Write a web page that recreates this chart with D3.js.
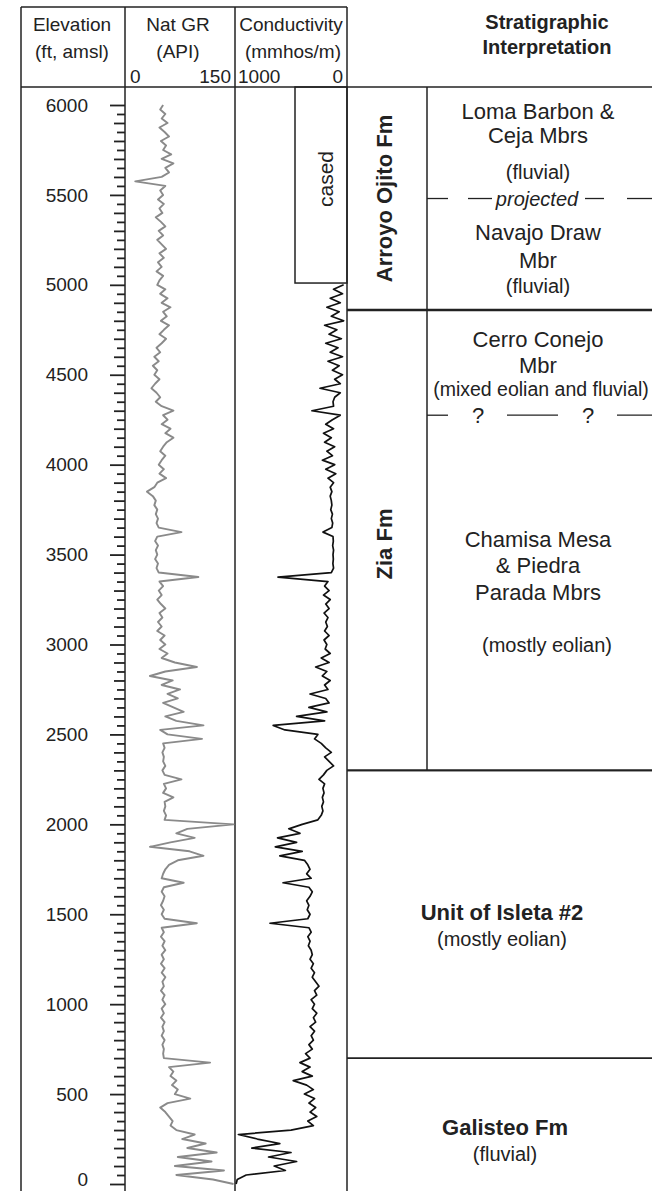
<!DOCTYPE html>
<html><head><meta charset="utf-8">
<script src="https://cdn.jsdelivr.net/npm/d3@7"></script>
<style>body{margin:0;background:#fff}svg{display:block}text{font-family:"Liberation Sans",Arial,sans-serif;fill:#222}</style>
</head><body><svg id="c" width="652" height="1191"></svg>
<script>
// ---------- DATA ----------
const elevTickLabels = [0,500,1000,1500,2000,2500,3000,3500,4000,4500,5000,5500,6000];
const grScaleLabels = ["0","150"];
const condScaleLabels = ["1000","0"];
// Natural gamma ray (API), sampled every 25 ft from 6000 ft down to 0 ft
const grTop = 6000, grStep = 25;
const grValues = [52,48,55,50,58,47,54,60,49,56,52,63,50,66,55,60,50,14,55,48,52,
45,53,47,51,42,49,55,46,52,44,50,56,47,53,45,50,43,52,47,44,
55,48,58,50,62,52,57,49,60,53,47,56,
50,43,48,40,46,38,44,40,47,41,36,43,48,42,50,66,52,58,50,62,55,66,57,52,48,55,50,46,
53,47,56,44,40,30,38,42,40,44,42,45,43,46,77,44,41,45,42,44,41,45,43,46,100,47,52,46,50,44,49,55,47,51,45,
50,44,54,48,55,47,58,50,68,98,55,34,65,50,75,58,72,52,66,80,55,70,107,48,58,105,52,54,51,53,52,55,51,54,77,53,56,52,66,54,55,53,56,54,148,
85,70,95,62,34,88,107,72,60,55,52,50,80,53,50,54,52,49,53,50,54,98,50,53,49,54,51,55,50,53,49,54,50,55,51,53,49,54,51,55,
50,53,49,54,51,53,50,54,51,53,52,53,116,60,66,62,70,64,72,68,89,58,48,55,60,65,62,70,95,78,110,85,125,72,118,68,135,70,120,148];
// Conductivity (mmhos/m), sampled every 25 ft from 5000 ft down to 0 ft (cased above)
const condTop = 5000, condStep = 25;
const condValues = [30,120,40,150,60,180,70,140,30,200,90,160,50,190,80,150,40,170,70,130,40,110,60,241,60,110,125,120,313,60,
130,190,120,210,140,200,110,180,130,220,110,190,100,170,120,150,135,150,140,135,145,130,140,128,135,214,125,122,128,120,
125,122,126,120,140,616,170,200,160,210,150,190,160,205,170,190,175,200,160,205,180,195,150,230,160,280,180,220,150,200,
170,330,190,160,340,180,450,200,659,554,260,290,230,190,140,200,160,120,180,210,250,200,215,205,220,210,225,215,230,260,
400,520,420,620,450,640,400,600,380,350,330,360,320,571,340,310,330,360,340,355,330,350,688,340,320,350,330,345,320,310,
330,300,320,290,310,280,250,290,270,320,290,310,270,300,280,330,290,320,300,340,310,370,330,420,330,400,310,480,360,300,
380,290,340,280,330,270,350,300,500,970,800,600,850,500,700,450,650,550,900,980,990];
const casedBottom = 5010;
// Stratigraphic units (elevations in ft)
const formations = [
  {name:"Arroyo Ojito Fm", top:6300, bottom:4860},
  {name:"Zia Fm", top:4860, bottom:2300}
];
const units = [
  {name:"Unit of Isleta #2", sub:"(mostly eolian)", top:2300, bottom:700},
  {name:"Galisteo Fm", sub:"(fluvial)", top:700, bottom:-200}
];
const projectedContact = 5480;
const uncertainContact = 4275;

// ---------- LAYOUT ----------
const svg = d3.select("#c");
const X = {left:21, gr:125, cond:235, strat:347, mbr:427, right:652};
const headTop = 7, headBot = 87, H = 1191;
const y = d3.scaleLinear().domain([0,6000]).range([1184,105]);
const xGR = d3.scaleLinear().domain([0,150]).range([X.gr, X.cond]);
const xCond = d3.scaleLinear().domain([1000,0]).range([X.cond, X.strat]);
const ink = "#222";

const frame = svg.append("g").attr("stroke", ink).attr("stroke-width",1.5).attr("fill","none");
frame.append("line").attr("x1",X.left).attr("x2",X.strat).attr("y1",headTop).attr("y2",headTop);
frame.append("line").attr("x1",X.left).attr("x2",X.right).attr("y1",headBot).attr("y2",headBot);
[X.left, X.gr, X.cond, X.strat].forEach(x=>{
  frame.append("line").attr("x1",x).attr("x2",x).attr("y1",headTop).attr("y2",H);
});

// header texts
function txt(x,yy,s,opt={}){
  return svg.append("text").attr("x",x).attr("y",yy).text(s)
    .attr("font-size",opt.size||19).attr("text-anchor",opt.anchor||"middle")
    .attr("font-weight",opt.weight||"normal").attr("font-style",opt.style||"normal");
}
txt(72,31,"Elevation"); txt(72,58,"(ft, amsl)");
txt(178,31,"Nat GR"); txt(178,58,"(API)");
txt(291,31,"Conductivity"); txt(293,58,"(mmhos/m)");
txt(xGR(0)+5,83,grScaleLabels[0],{anchor:"start"});
txt(xGR(150)-4,83,grScaleLabels[1],{anchor:"end"});
txt(xCond(1000)+3,83,condScaleLabels[0],{anchor:"start"});
txt(xCond(0)-4,83,condScaleLabels[1],{anchor:"end"});
txt(547,29,"Stratigraphic",{weight:"bold",size:20});
txt(547,54,"Interpretation",{weight:"bold",size:20});

// elevation axis
const minor = d3.range(0,6001,50).filter(v=>v%500!==0);
const axMinor = svg.append("g").attr("transform",`translate(${X.gr},0)`)
  .call(d3.axisLeft(y).tickValues(minor).tickSize(0).tickFormat(""));
axMinor.selectAll(".tick line").attr("x2",d=>d%100===0?-11:-8).attr("stroke",ink).attr("stroke-width",1.8);
axMinor.select(".domain").remove();
const axMajor = svg.append("g").attr("transform",`translate(${X.gr},0)`)
  .call(d3.axisLeft(y).tickValues(elevTickLabels).tickSize(15).tickPadding(22).tickFormat(d3.format("d")));
axMajor.select(".domain").remove();
axMajor.selectAll(".tick line").attr("stroke",ink).attr("stroke-width",1.8);
axMajor.selectAll(".tick text").attr("font-size",19).attr("fill",ink)
  .attr("font-family",'"Liberation Sans",Arial,sans-serif')
  .attr("dy",d=>d===0?"0.1em":"0.32em");

// GR curve
const grData = grValues.map((v,i)=>({e:grTop-i*grStep, v}));
svg.append("path").datum(grData)
  .attr("d", d3.line().x(d=>xGR(d.v)).y(d=>y(d.e)))
  .attr("fill","none").attr("stroke","#8a8a8a").attr("stroke-width",1.9).attr("stroke-linejoin","round");

// conductivity curve
const condData = condValues.map((v,i)=>({e:condTop-i*condStep, v}));
svg.append("clipPath").attr("id","cc").append("rect")
  .attr("x",X.cond).attr("y",headBot).attr("width",X.strat-X.cond).attr("height",H-headBot);
svg.append("path").datum(condData).attr("clip-path","url(#cc)")
  .attr("d", d3.line().x(d=>xCond(d.v)).y(d=>y(d.e)))
  .attr("fill","none").attr("stroke","#111").attr("stroke-width",1.7).attr("stroke-linejoin","round");

// cased box
const casedLeft = 295;
svg.append("rect").attr("x",casedLeft).attr("y",headBot).attr("width",X.strat-casedLeft)
  .attr("height",y(casedBottom)-headBot).attr("fill","none").attr("stroke",ink).attr("stroke-width",1.5);
svg.append("text").attr("transform",`translate(333,${(headBot+y(casedBottom))/2-6}) rotate(-90)`)
  .attr("text-anchor","middle").attr("font-size",21).text("cased");

// stratigraphic column
formations.forEach((f,i)=>{
  const yb = y(f.bottom);
  svg.append("line").attr("x1",X.strat).attr("x2",X.right).attr("y1",yb).attr("y2",yb)
    .attr("stroke",ink).attr("stroke-width",i===0?2.5:1.6);
});
svg.append("line").attr("x1",X.mbr).attr("x2",X.mbr).attr("y1",headBot).attr("y2",y(formations[1].bottom))
  .attr("stroke",ink).attr("stroke-width",1.5);
units.forEach(u=>{
  const yt = y(u.top);
  svg.append("line").attr("x1",X.strat).attr("x2",X.right).attr("y1",yt).attr("y2",yt)
    .attr("stroke",ink).attr("stroke-width",1.6);
});
// formation labels (rotated)
svg.append("text").attr("transform",`translate(392,${(headBot+y(formations[0].bottom))/2}) rotate(-90)`)
  .attr("text-anchor","middle").attr("font-size",22).attr("font-weight","bold").text(formations[0].name);
svg.append("text").attr("transform",`translate(392,544) rotate(-90)`)
  .attr("text-anchor","middle").attr("font-size",22).attr("font-weight","bold").text(formations[1].name);

// members
const mx = 538;
txt(mx,119,"Loma Barbon &",{size:22});
txt(mx,143,"Ceja Mbrs",{size:22});
txt(mx,179,"(fluvial)",{size:20});
const yp = y(projectedContact);
const dash = svg.append("g").attr("stroke",ink).attr("stroke-width",1.3);
[[427,448],[468,492],[585,604],[627,652]].forEach(s=>dash.append("line").attr("x1",s[0]).attr("x2",s[1]).attr("y1",yp).attr("y2",yp));
txt(537,yp+7,"projected",{size:20,style:"italic"});
txt(mx,240,"Navajo Draw",{size:22});
txt(mx,268,"Mbr",{size:22});
txt(mx,293,"(fluvial)",{size:20});

txt(mx,347,"Cerro Conejo",{size:22});
txt(mx,373,"Mbr",{size:22});
txt(541,396,"(mixed eolian and fluvial)",{size:19.5});
const yq = y(uncertainContact);
[[427,448],[507,558],[617,652]].forEach(s=>dash.append("line").attr("x1",s[0]).attr("x2",s[1]).attr("y1",yq).attr("y2",yq));
txt(478,yq+8,"?",{size:22});
txt(588,yq+8,"?",{size:22});
txt(mx,547,"Chamisa Mesa",{size:22});
txt(mx,573,"& Piedra",{size:22});
txt(mx,600,"Parada Mbrs",{size:22});
txt(547,652,"(mostly eolian)",{size:20});

txt(502,920,units[0].name,{size:22,weight:"bold"});
txt(502,946,units[0].sub,{size:20});
txt(505,1135,units[1].name,{size:22,weight:"bold"});
txt(505,1161,units[1].sub,{size:20});
</script></body></html>
